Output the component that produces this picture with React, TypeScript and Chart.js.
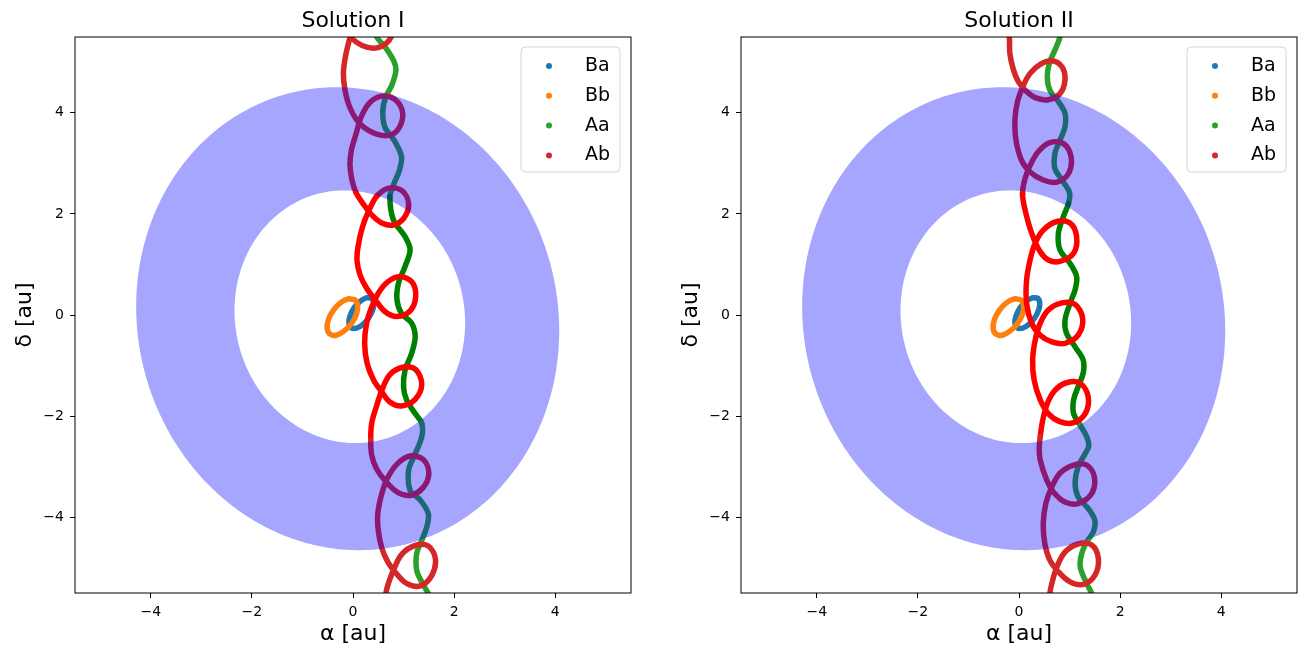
import React, { useEffect, useRef } from 'react';
import { Chart, registerables } from 'chart.js';

Chart.register(...registerables);

// ---------- data (values in au) ----------
const AXIS_MIN = -5.5;
const AXIS_MAX = 5.5;
const TICKS = [-4, -2, 0, 2, 4];
const SERIES_LABELS = ['Ba', 'Bb', 'Aa', 'Ab'];
const SERIES_COLORS = ['#1f77b4', '#ff7f0e', '#2ca02c', '#d62728'];
const HOLE_COLORS = ['#1f77b4', '#ff7f0e', '#008000', '#ff0000'];
const PANEL_TITLES = ['Solution I', 'Solution II'];

// ring: [centre x, centre y, semi-axis a, semi-axis b, tilt in degrees]
const OUTER_RING = [-0.105, -0.073, 4.153, 4.609, 15];
const INNER_RING = [-0.063, -0.035, 2.266, 2.513, 14];

const BA: number[][] = [
  [0.37, 0.33], [0.27, 0.34], [0.14, 0.27], [0.02, 0.14], [-0.06, -0.02], [-0.08, -0.16],
  [-0.04, -0.25], [0.07, -0.26], [0.19, -0.19], [0.31, -0.06], [0.39, 0.1], [0.41, 0.24],
  [0.37, 0.33], [0.27, 0.34],
];

const BB: number[][] = [
  [0.03, 0.3], [-0.09, 0.32], [-0.25, 0.24], [-0.39, 0.09], [-0.49, -0.1], [-0.51, -0.28],
  [-0.45, -0.38], [-0.33, -0.4], [-0.18, -0.32], [-0.03, -0.17], [0.07, 0.02], [0.09, 0.2],
  [0.03, 0.3], [-0.09, 0.32],
];

const AA_SOLUTION_I: number[][] = [
  [0.3, 5.94], [0.47, 5.5], [0.63, 5.31], [0.8, 5.04], [0.85, 4.85], [0.77, 4.55], [0.65, 4.32],
  [0.59, 4.05], [0.63, 3.72], [0.83, 3.43], [0.96, 3.13], [0.92, 2.87], [0.8, 2.57], [0.73, 2.34],
  [0.8, 1.88], [1.03, 1.55], [1.13, 1.29], [1.03, 0.96], [0.9, 0.63], [0.87, 0.3], [0.96, 0.03],
  [1.16, -0.16], [1.23, -0.43], [1.16, -0.76], [1.03, -1.09], [1.0, -1.42], [1.06, -1.68],
  [1.23, -1.95], [1.36, -2.14], [1.36, -2.41], [1.21, -2.79], [1.1, -3.07], [1.13, -3.47],
  [1.33, -3.66], [1.49, -3.93], [1.46, -4.19], [1.36, -4.46], [1.26, -4.72], [1.26, -5.05],
  [1.36, -5.28], [1.49, -5.51], [1.62, -5.74],
];

const AB_SOLUTION_I: number[][] = [
  [-0.34, 6.24], [-0.26, 6.0], [-0.16, 5.7], [-0.04, 5.49], [0.18, 5.33], [0.44, 5.28], [0.65, 5.37],
  [0.77, 5.54], [0.77, 5.8], [0.63, 6.0], [0.38, 6.04], [0.14, 5.92], [0.0, 5.68], [-0.08, 5.41],
  [-0.15, 5.11], [-0.19, 4.79], [-0.16, 4.46], [-0.06, 4.1], [0.14, 3.78], [0.47, 3.58], [0.77, 3.57],
  [0.95, 3.78], [0.97, 4.06], [0.81, 4.28], [0.57, 4.33], [0.34, 4.21], [0.17, 3.94], [0.06, 3.58],
  [-0.03, 3.27], [-0.06, 2.97], [-0.02, 2.67], [0.06, 2.42], [0.2, 2.2], [0.37, 1.98], [0.57, 1.82],
  [0.8, 1.78], [1.01, 1.92], [1.1, 2.2], [0.97, 2.46], [0.71, 2.51], [0.48, 2.36], [0.32, 2.08],
  [0.19, 1.75], [0.1, 1.35], [0.08, 1.07], [0.14, 0.79], [0.27, 0.53], [0.44, 0.3], [0.63, 0.07],
  [0.87, -0.03], [1.13, 0.08], [1.24, 0.36], [1.17, 0.65], [0.93, 0.76], [0.68, 0.65], [0.5, 0.43],
  [0.37, 0.16], [0.27, -0.16], [0.23, -0.56], [0.28, -0.96], [0.41, -1.29], [0.57, -1.52],
  [0.73, -1.72], [0.96, -1.8], [1.23, -1.67], [1.36, -1.37], [1.24, -1.08], [1.0, -1.03],
  [0.73, -1.18], [0.57, -1.49], [0.46, -1.82], [0.37, -2.14], [0.35, -2.48], [0.37, -2.77],
  [0.46, -3.03], [0.63, -3.27], [0.87, -3.5], [1.13, -3.57], [1.39, -3.41], [1.5, -3.13],
  [1.39, -2.86], [1.13, -2.79], [0.87, -2.95], [0.68, -3.23], [0.57, -3.53], [0.49, -3.93],
  [0.5, -4.26], [0.57, -4.61], [0.69, -4.89], [0.83, -5.08], [1.06, -5.31], [1.33, -5.36],
  [1.56, -5.15], [1.63, -4.82], [1.49, -4.57], [1.23, -4.56], [0.96, -4.74], [0.8, -5.05],
  [0.7, -5.31], [0.65, -5.51], [0.61, -5.94],
];

const AA_SOLUTION_II: number[][] = [
  [0.87, 5.84], [0.81, 5.5], [0.71, 5.24], [0.6, 4.98], [0.56, 4.71], [0.61, 4.45], [0.78, 4.22],
  [0.91, 3.99], [0.91, 3.72], [0.81, 3.46], [0.71, 3.19], [0.71, 2.9], [0.85, 2.67], [1.0, 2.42],
  [0.98, 2.21], [0.88, 1.95], [0.78, 1.62], [0.81, 1.29], [1.01, 1.02], [1.14, 0.76], [1.11, 0.5],
  [1.01, 0.23], [0.91, -0.1], [0.94, -0.36], [1.11, -0.63], [1.27, -0.89], [1.27, -1.15],
  [1.17, -1.42], [1.08, -1.68], [1.08, -1.95], [1.21, -2.18], [1.34, -2.41], [1.38, -2.59],
  [1.31, -2.74], [1.17, -3.0], [1.11, -3.33], [1.17, -3.6], [1.37, -3.83], [1.5, -4.06],
  [1.47, -4.29], [1.34, -4.49], [1.24, -4.72], [1.21, -4.98], [1.31, -5.25], [1.44, -5.51],
  [1.54, -5.74],
];

const AB_SOLUTION_II: number[][] = [
  [-0.23, 5.94], [-0.19, 5.5], [-0.18, 5.17], [-0.11, 4.85], [-0.01, 4.61], [0.12, 4.45], [0.32, 4.3],
  [0.58, 4.26], [0.81, 4.38], [0.91, 4.65], [0.85, 4.91], [0.65, 5.03], [0.42, 4.96], [0.22, 4.78],
  [0.09, 4.55], [-0.03, 4.22], [-0.08, 3.86], [-0.06, 3.46], [0.05, 3.06], [0.22, 2.83], [0.48, 2.67],
  [0.75, 2.63], [0.98, 2.8], [1.03, 3.13], [0.88, 3.39], [0.61, 3.41], [0.38, 3.23], [0.22, 2.96],
  [0.12, 2.7], [0.07, 2.4], [0.12, 2.08], [0.25, 1.62], [0.42, 1.25], [0.58, 1.09], [0.81, 1.06],
  [1.08, 1.22], [1.14, 1.55], [1.01, 1.82], [0.75, 1.85], [0.48, 1.68], [0.32, 1.42], [0.22, 1.09],
  [0.15, 0.69], [0.15, 0.23], [0.25, -0.16], [0.42, -0.4], [0.65, -0.53], [0.91, -0.56],
  [1.17, -0.4], [1.26, -0.07], [1.11, 0.21], [0.85, 0.24], [0.58, 0.1], [0.42, -0.16], [0.32, -0.5],
  [0.27, -0.89], [0.3, -1.29], [0.42, -1.68], [0.58, -1.95], [0.81, -2.11], [1.08, -2.13],
  [1.31, -1.95], [1.37, -1.62], [1.21, -1.35], [0.94, -1.34], [0.71, -1.49], [0.56, -1.75],
  [0.47, -2.08], [0.42, -2.41], [0.4, -2.64], [0.42, -2.87], [0.55, -3.27], [0.68, -3.5],
  [0.91, -3.7], [1.17, -3.73], [1.44, -3.53], [1.49, -3.2], [1.34, -2.97], [1.08, -2.97],
  [0.81, -3.13], [0.65, -3.4], [0.53, -3.73], [0.48, -4.12], [0.51, -4.52], [0.61, -4.85],
  [0.78, -5.08], [1.01, -5.28], [1.27, -5.33], [1.5, -5.15], [1.57, -4.82], [1.44, -4.55],
  [1.17, -4.53], [0.91, -4.69], [0.75, -4.98], [0.65, -5.31], [0.61, -5.51], [0.58, -5.88],
];

// ---------- helpers ----------
const FONT = "'DejaVu Sans', 'Liberation Sans', sans-serif";

function insideEllipse(ring: number[], x: number, y: number) {
  const [cx, cy, a, b, deg] = ring;
  const t = (deg * Math.PI) / 180;
  const dx = x - cx;
  const dy = y - cy;
  const u = dx * Math.cos(t) + dy * Math.sin(t);
  const v = -dx * Math.sin(t) + dy * Math.cos(t);
  return (u / a) ** 2 + (v / b) ** 2 < 1;
}

function tickLabel(v: number) {
  return v < 0 ? '\u2212' + Math.abs(v) : String(v);
}

const ringPlugin = {
  id: 'ringOverlay',
  afterDatasetsDraw(chart: any) {
    const { ctx, chartArea: ca, scales } = chart;
    const xs = scales.x;
    const ys = scales.y;
    ctx.save();
    ctx.beginPath();
    ctx.rect(ca.left, ca.top, ca.right - ca.left, ca.bottom - ca.top);
    ctx.clip();
    ctx.beginPath();
    for (const ring of [OUTER_RING, INNER_RING]) {
      const [cx, cy, a, b, deg] = ring;
      const t = (deg * Math.PI) / 180;
      for (let i = 0; i <= 360; i++) {
        const s = (i * Math.PI) / 180;
        const vx = cx + a * Math.cos(s) * Math.cos(t) - b * Math.sin(s) * Math.sin(t);
        const vy = cy + a * Math.cos(s) * Math.sin(t) + b * Math.sin(s) * Math.cos(t);
        const px = xs.getPixelForValue(vx);
        const py = ys.getPixelForValue(vy);
        if (i === 0) ctx.moveTo(px, py);
        else ctx.lineTo(px, py);
      }
      ctx.closePath();
    }
    ctx.fillStyle = 'rgba(0, 0, 255, 0.35)';
    ctx.fill('evenodd');
    ctx.restore();
  },
};

const frameLegendPlugin = {
  id: 'frameLegend',
  afterDraw(chart: any) {
    const { ctx, chartArea: ca } = chart;
    ctx.save();
    ctx.strokeStyle = '#000';
    ctx.lineWidth = 1;
    ctx.strokeRect(ca.left, ca.top, ca.right - ca.left, ca.bottom - ca.top);

    const w = 99;
    const h = 125;
    const left = ca.right - 11 - w;
    const top = ca.top + 10;
    const r = 4;
    ctx.beginPath();
    ctx.moveTo(left + r, top);
    ctx.lineTo(left + w - r, top);
    ctx.arcTo(left + w, top, left + w, top + r, r);
    ctx.lineTo(left + w, top + h - r);
    ctx.arcTo(left + w, top + h, left + w - r, top + h, r);
    ctx.lineTo(left + r, top + h);
    ctx.arcTo(left, top + h, left, top + h - r, r);
    ctx.lineTo(left, top + r);
    ctx.arcTo(left, top, left + r, top, r);
    ctx.closePath();
    ctx.fillStyle = 'rgba(255,255,255,0.8)';
    ctx.fill();
    ctx.strokeStyle = 'rgba(204,204,204,0.8)';
    ctx.lineWidth = 1;
    ctx.stroke();

    const datasets = chart.data.datasets;
    ctx.font = `19px ${FONT}`;
    ctx.textBaseline = 'middle';
    ctx.textAlign = 'left';
    for (let i = 0; i < datasets.length; i++) {
      const cy = top + 19 + i * 29.8;
      ctx.beginPath();
      ctx.arc(left + 28, cy, 3, 0, Math.PI * 2);
      ctx.fillStyle = SERIES_COLORS[i];
      ctx.fill();
      ctx.fillStyle = '#000';
      ctx.fillText(datasets[i].label, left + 64, cy);
    }
    ctx.restore();
  },
};

function makeDataset(i: number, pts: number[][], order: number) {
  return {
    label: SERIES_LABELS[i],
    data: pts.map(([x, y]) => ({ x, y })),
    showLine: true,
    borderColor: SERIES_COLORS[i],
    backgroundColor: SERIES_COLORS[i],
    borderWidth: 5.5,
    borderCapStyle: 'round',
    borderJoinStyle: 'round',
    pointRadius: 0,
    pointHoverRadius: 0,
    tension: 0.34,
    fill: false,
    clip: 0,
    order,
    segment: {
      borderColor: (ctx: any) => {
        const p = pts[ctx.p0DataIndex];
        const q = pts[ctx.p1DataIndex];
        if (!p || !q) return SERIES_COLORS[i];
        const mx = (p[0] + q[0]) / 2;
        const my = (p[1] + q[1]) / 2;
        return insideEllipse(INNER_RING, mx, my) ? HOLE_COLORS[i] : SERIES_COLORS[i];
      },
    },
  };
}

function axisCommon(title: string) {
  return {
    type: 'linear',
    min: AXIS_MIN,
    max: AXIS_MAX,
    afterBuildTicks: (axis: any) => {
      axis.ticks = TICKS.map((v) => ({ value: v }));
    },
    ticks: {
      callback: (v: any) => tickLabel(Number(v)),
      color: '#000',
      font: { family: FONT, size: 14 },
      padding: 6,
      maxRotation: 0,
      autoSkip: false,
    },
    grid: {
      display: true,
      drawOnChartArea: false,
      drawTicks: true,
      tickLength: 5,
      tickColor: '#000',
      tickWidth: 1,
    },
    border: { display: false },
    title: {
      display: true,
      text: title,
      color: '#000',
      font: { family: FONT, size: 22, lineHeight: 1.2 },
    },
  };
}

function makeConfig(panel: number, aa: number[][], ab: number[][], padLeft: number, padRight: number) {
  const xAxis: any = axisCommon('\u03b1 [au]');
  xAxis.title.padding = { top: 0, bottom: 7 };
  xAxis.afterFit = (s: any) => {
    s.height = 61;
  };
  const yAxis: any = axisCommon('\u03b4 [au]');
  yAxis.title.padding = { top: 12, bottom: 0 };
  yAxis.afterFit = (s: any) => {
    s.width = 75;
  };
  return {
    type: 'scatter',
    data: {
      datasets: [
        makeDataset(0, BA, 4),
        makeDataset(1, BB, 3),
        makeDataset(2, aa, 2),
        makeDataset(3, ab, 1),
      ],
    },
    options: {
      responsive: false,
      animation: false,
      events: [],
      elements: { line: { capBezierPoints: false } },
      layout: { padding: { left: padLeft, right: padRight, top: 0, bottom: 0 } },
      plugins: {
        legend: { display: false },
        tooltip: { enabled: false },
        title: {
          display: true,
          text: PANEL_TITLES[panel],
          color: '#000',
          fullSize: false,
          font: { family: FONT, size: 22, weight: 'normal', lineHeight: 1.2 },
          padding: { top: 8, bottom: 2.6 },
        },
      },
      scales: { x: xAxis, y: yAxis },
    },
    plugins: [ringPlugin, frameLegendPlugin],
  };
}

export default function App() {
  const leftRef = useRef<HTMLCanvasElement>(null);
  const rightRef = useRef<HTMLCanvasElement>(null);

  useEffect(() => {
    const c1 = new Chart(leftRef.current as HTMLCanvasElement, makeConfig(0, AA_SOLUTION_I, AB_SOLUTION_I, 0, 21) as any);
    const c2 = new Chart(rightRef.current as HTMLCanvasElement, makeConfig(1, AA_SOLUTION_II, AB_SOLUTION_II, 14, 7) as any);
    return () => {
      c1.destroy();
      c2.destroy();
    };
  }, []);

  return (
    <div style={{ position: 'absolute', left: 0, top: 0, width: 1304, height: 654, background: '#fff' }}>
      <canvas
        ref={leftRef}
        width={652}
        height={654}
        style={{ position: 'absolute', left: 0, top: 0, width: 652, height: 654 }}
      />
      <canvas
        ref={rightRef}
        width={652}
        height={654}
        style={{ position: 'absolute', left: 652, top: 0, width: 652, height: 654 }}
      />
    </div>
  );
}
